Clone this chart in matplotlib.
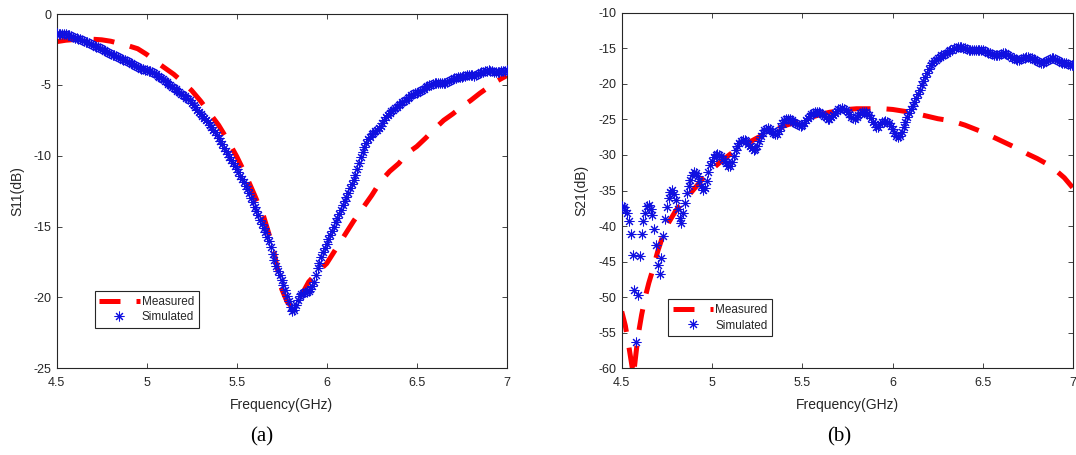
import numpy as np
import matplotlib

matplotlib.use("Agg")
import matplotlib.pyplot as plt

plt.rcParams["font.family"] = ["Liberation Sans", "DejaVu Sans"]

# simulated sweep, 4.5 .. 7.0 GHz in 0.01 GHz steps (one row per 0.1 GHz)
sim_freq = np.linspace(4.5, 7.0, 251)

s11_sim = [
    -1.36, -1.38, -1.40, -1.40, -1.42, -1.44, -1.46, -1.50, -1.55, -1.60,
    -1.66, -1.71, -1.75, -1.79, -1.83, -1.88, -1.94, -2.00, -2.06, -2.12,
    -2.18, -2.24, -2.30, -2.36, -2.42, -2.48, -2.54, -2.60, -2.66, -2.73,
    -2.80, -2.86, -2.92, -2.98, -3.04, -3.10, -3.16, -3.22, -3.28, -3.34,
    -3.40, -3.46, -3.52, -3.58, -3.65, -3.72, -3.79, -3.85, -3.90, -3.93,
    -3.95, -3.99, -4.03, -4.08, -4.17, -4.26, -4.35, -4.44, -4.53, -4.62,
    -4.72, -4.82, -4.92, -5.02, -5.12, -5.22, -5.32, -5.42, -5.52, -5.62,
    -5.72, -5.82, -5.90, -5.98, -6.10, -6.26, -6.42, -6.58, -6.74, -6.90,
    -7.04, -7.18, -7.32, -7.46, -7.62, -7.80, -7.98, -8.16, -8.36, -8.56,
    -8.76, -8.96, -9.18, -9.42, -9.66, -9.90, -10.12, -10.32, -10.50, -10.70,
    -10.92, -11.16, -11.40, -11.64, -11.88, -12.12, -12.38, -12.66, -12.96, -13.28,
    -13.60, -13.90, -14.20, -14.50, -14.80, -15.10, -15.40, -15.70, -16.05, -16.45,
    -16.90, -17.35, -17.75, -18.10, -18.45, -18.75, -19.10, -19.50, -19.90, -20.25,
    -20.65, -20.95, -20.90, -20.50, -20.15, -19.90, -19.75, -19.65, -19.60, -19.58,
    -19.55, -19.40, -19.20, -18.90, -18.45, -17.95, -17.55, -17.15, -16.80, -16.50,
    -16.20, -15.90, -15.60, -15.30, -15.00, -14.70, -14.40, -14.10, -13.80, -13.50,
    -13.20, -12.90, -12.60, -12.30, -12.00, -11.70, -11.35, -10.95, -10.50, -10.10,
    -9.75, -9.40, -9.10, -8.85, -8.65, -8.50, -8.38, -8.28, -8.18, -8.05,
    -7.88, -7.68, -7.48, -7.30, -7.12, -6.98, -6.86, -6.76, -6.66, -6.56,
    -6.44, -6.32, -6.22, -6.14, -6.06, -5.96, -5.84, -5.74, -5.66, -5.60,
    -5.56, -5.52, -5.46, -5.38, -5.28, -5.18, -5.10, -5.04, -4.98, -4.94,
    -4.90, -4.88, -4.86, -4.86, -4.86, -4.86, -4.84, -4.80, -4.74, -4.66,
    -4.58, -4.52, -4.48, -4.46, -4.46, -4.44, -4.40, -4.36, -4.32, -4.30,
    -4.30, -4.32, -4.34, -4.32, -4.26, -4.18, -4.12, -4.08, -4.04, -4.00,
    -3.98, -3.99, -4.02, -4.06, -4.08, -4.08, -4.06, -4.04, -4.02, -4.00,
    -3.98,
]

s21_sim = [
    -37.2, -37.3, -37.7, -38.2, -39.3, -41.1, -44.1, -49.0, -56.3, -49.7,
    -44.2, -41.1, -39.3, -38.2, -37.2, -37.1, -37.6, -38.5, -40.4, -42.7,
    -45.5, -46.7, -44.5, -41.4, -39.0, -37.3, -36.0, -35.2, -34.9, -35.5,
    -36.3, -37.6, -38.9, -39.5, -38.1, -36.7, -35.4, -34.3, -33.5, -32.8,
    -32.4, -32.5, -33.0, -33.7, -34.4, -34.9, -34.6, -33.6, -32.4, -31.4,
    -30.8, -30.3, -30.0, -29.9, -30.0, -30.2, -30.5, -30.8, -31.1, -31.5,
    -31.6, -31.0, -30.1, -29.3, -28.7, -28.3, -28.0, -27.9, -27.9, -28.1,
    -28.4, -28.7, -29.0, -29.3, -29.2, -28.7, -28.0, -27.4, -26.9, -26.5,
    -26.3, -26.2, -26.3, -26.6, -26.9, -27.1, -27.0, -26.6, -26.0, -25.5,
    -25.1, -24.9, -24.9, -25.0, -25.1, -25.3, -25.5, -25.6, -25.8, -25.9,
    -25.8, -25.5, -25.1, -24.8, -24.5, -24.3, -24.1, -23.9, -23.9, -24.0,
    -24.1, -24.3, -24.5, -24.7, -24.9, -24.9, -24.7, -24.4, -24.1, -23.8,
    -23.6, -23.5, -23.4, -23.5, -23.7, -24.0, -24.3, -24.6, -24.8, -24.9,
    -24.7, -24.4, -24.1, -23.9, -23.9, -24.0, -24.2, -24.4, -24.8, -25.3,
    -25.7, -26.0, -26.0, -25.7, -25.4, -25.3, -25.2, -25.3, -25.5, -25.9,
    -26.4, -26.9, -27.3, -27.5, -27.3, -26.7, -26.0, -25.3, -24.7, -24.1,
    -23.6, -23.1, -22.6, -22.0, -21.4, -20.8, -20.2, -19.6, -19.0, -18.5,
    -17.9, -17.4, -17.0, -16.8, -16.6, -16.4, -16.2, -16.0, -15.9, -15.8,
    -15.6, -15.4, -15.3, -15.2, -15.0, -14.9, -14.8, -14.8, -14.8, -14.9,
    -15.0, -15.1, -15.2, -15.3, -15.3, -15.3, -15.3, -15.2, -15.2, -15.2,
    -15.3, -15.4, -15.5, -15.6, -15.7, -15.8, -15.9, -16.0, -16.0, -15.9,
    -15.8, -15.7, -15.7, -15.8, -15.9, -16.1, -16.3, -16.4, -16.5, -16.6,
    -16.6, -16.5, -16.4, -16.3, -16.2, -16.2, -16.3, -16.4, -16.5, -16.7,
    -16.8, -16.9, -17.0, -17.0, -16.9, -16.8, -16.6, -16.5, -16.4, -16.4,
    -16.5, -16.6, -16.8, -16.9, -17.0, -17.1, -17.1, -17.2, -17.3, -17.4,
    -17.4,
]

s11_meas_freq = [
    4.50, 4.55, 4.60, 4.65, 4.70, 4.75, 4.80, 4.85, 4.90, 4.95,
    5.00, 5.05, 5.10, 5.15, 5.20, 5.25, 5.30, 5.35, 5.40, 5.45,
    5.50, 5.55, 5.60, 5.65, 5.70, 5.75, 5.78, 5.81, 5.84, 5.87,
    5.90, 5.95, 6.00, 6.05, 6.10, 6.15, 6.20, 6.25, 6.30, 6.35,
    6.40, 6.45, 6.50, 6.55, 6.60, 6.65, 6.70, 6.75, 6.80, 6.85,
    6.90, 6.95, 7.00,
]
s11_meas = [
    -1.95, -1.85, -1.80, -1.78, -1.78, -1.82, -1.92, -2.08, -2.25, -2.45,
    -2.85, -3.35, -3.80, -4.25, -4.80, -5.40, -6.15, -7.00, -7.85, -8.90,
    -10.05, -11.35, -12.80, -14.30, -16.40, -19.40, -20.30, -20.70, -20.30, -19.60,
    -18.90, -18.20, -17.60, -16.60, -15.60, -14.60, -13.70, -12.80, -11.80, -11.10,
    -10.55, -9.80, -9.35, -8.75, -8.10, -7.50, -7.05, -6.55, -6.10, -5.60,
    -5.15, -4.70, -4.35,
]

s21_meas_freq = [
    4.50, 4.52, 4.54, 4.565, 4.59, 4.61, 4.63, 4.65, 4.67, 4.70,
    4.73, 4.76, 4.80, 4.85, 4.90, 4.95, 5.00, 5.05, 5.10, 5.15,
    5.20, 5.25, 5.30, 5.35, 5.40, 5.45, 5.50, 5.55, 5.60, 5.65,
    5.70, 5.75, 5.80, 5.85, 5.90, 5.95, 6.00, 6.05, 6.10, 6.15,
    6.20, 6.25, 6.30, 6.35, 6.40, 6.45, 6.50, 6.55, 6.60, 6.65,
    6.70, 6.75, 6.80, 6.85, 6.90, 6.95, 7.00,
]
s21_meas = [
    -52.0, -54.0, -57.0, -61.0, -55.5, -52.5, -50.0, -48.0, -46.3, -43.5,
    -41.2, -39.5, -37.8, -36.3, -34.8, -33.3, -32.0, -30.9, -29.9, -29.0,
    -28.3, -27.6, -27.0, -26.4, -25.9, -25.5, -25.2, -24.7, -24.3, -24.0,
    -23.8, -23.6, -23.5, -23.5, -23.5, -23.5, -23.6, -23.8, -24.0, -24.3,
    -24.6, -24.9, -25.1, -25.4, -25.8, -26.3, -26.8, -27.4, -28.0, -28.6,
    -29.2, -29.9, -30.5, -31.2, -32.1, -33.2, -34.7,
]

x_ticks = [4.5, 5, 5.5, 6, 6.5, 7]
x_tick_labels = ["4.5", "5", "5.5", "6", "6.5", "7"]

AX_COLOR = "#262626"
ASTERISK = (8, 2, 0)


def style_axes(ax, ylim, yticks, ylabel, ylabel_x):
    ax.set_xlim(4.5, 7)
    ax.set_ylim(*ylim)
    ax.set_xticks(x_ticks)
    ax.set_xticklabels(x_tick_labels)
    ax.set_yticks(yticks)
    ax.set_yticklabels([f"{v:g}" for v in yticks])
    ax.tick_params(direction="in", length=3.5, width=0.6, top=True, right=True,
                   labelsize=9, colors=AX_COLOR)
    ax.tick_params(axis="x", pad=6.5)
    ax.tick_params(axis="y", pad=4)
    for sp in ax.spines.values():
        sp.set_color(AX_COLOR)
        sp.set_linewidth(0.8)
    ax.set_xlabel("Frequency(GHz)", fontsize=10, color=AX_COLOR)
    ax.set_ylabel(ylabel, fontsize=10, color=AX_COLOR)
    ax.xaxis.set_label_coords(0.5, -0.083)
    ax.yaxis.set_label_coords(ylabel_x, 0.5)


def draw_panel(ax, meas_f, meas, sim):
    ax.plot(meas_f, meas, color="#ff0000", lw=3.6, ls=(0, (4.2, 3.2)),
            dash_capstyle="butt", label="Measured", zorder=2)
    ax.plot(sim_freq, sim, ls="none", marker=ASTERISK, ms=7, mew=0.75,
            color="#1010e0", label="Simulated", zorder=3)


def add_legend(ax, fig, anchor):
    leg = ax.legend(loc="upper left", bbox_to_anchor=anchor,
                    bbox_transform=fig.transFigure, fontsize=8.5,
                    handlelength=3.4, handletextpad=0.2, borderpad=0.4,
                    labelspacing=0.3, borderaxespad=0, fancybox=False,
                    framealpha=1, edgecolor=AX_COLOR)
    leg.get_frame().set_linewidth(0.8)
    for txt in leg.get_texts():
        txt.set_color(AX_COLOR)


fig = plt.figure(figsize=(10.76, 4.55), dpi=100, facecolor="white")

ax1 = fig.add_axes([0.0527, 0.1905, 0.4182, 0.7787])
draw_panel(ax1, s11_meas_freq, s11_meas, s11_sim)
style_axes(ax1, (-25, 0), [-25, -20, -15, -10, -5, 0], "S11(dB)", -0.073)
add_legend(ax1, fig, (0.0880, 0.3604))

ax2 = fig.add_axes([0.5778, 0.1905, 0.4197, 0.7815])
draw_panel(ax2, s21_meas_freq, s21_meas, s21_sim)
style_axes(ax2, (-60, -10), [-60, -55, -50, -45, -40, -35, -30, -25, -20, -15, -10],
           "S21(dB)", -0.073)
add_legend(ax2, fig, (0.6210, 0.3422))

fig.text(261.6 / 1076, 1 - 437 / 455, "(a)", ha="center", va="center",
         fontsize=15, family=["Liberation Serif", "DejaVu Serif"])
fig.text(839 / 1076, 1 - 437 / 455, "(b)", ha="center", va="center",
         fontsize=15, family=["Liberation Serif", "DejaVu Serif"])

fig.savefig("out.png", dpi=100, facecolor="white")
